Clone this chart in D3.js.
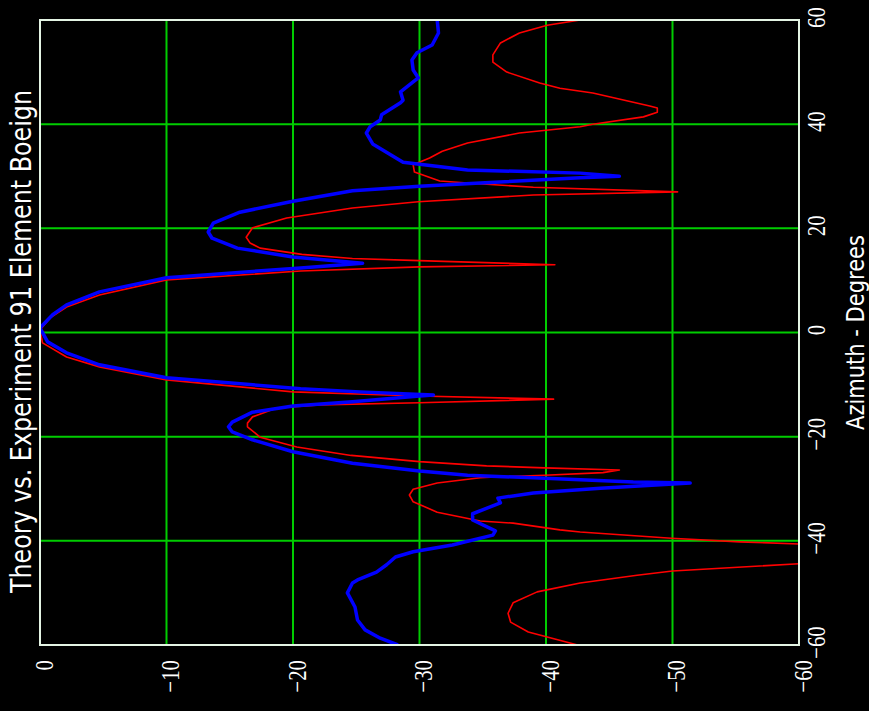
<!DOCTYPE html>
<html>
<head>
<meta charset="utf-8">
<script src="https://cdn.jsdelivr.net/npm/d3@7"></script>
<style>
  html, body { margin: 0; padding: 0; background: #000; }
  svg { display: block; }
</style>
</head>
<body>
<script>
// level in dB along the bottom, azimuth in degrees up the right side
const dbTicks = [0, -10, -20, -30, -40, -50, -60];
const azTicks = [60, 40, 20, 0, -20, -40, -60];

// [azimuth, dB]
const theory = [
  [-60, -42.5], [-57.5, -38.6], [-55.6, -37.2], [-53.9, -37.0], [-51.9, -37.4],
  [-49.8, -39.3], [-48.1, -42.7], [-46.6, -47.2], [-45.8, -50.0], [-44.4, -60.0],
  [-42.5, -75.0], [-40.6, -60.0], [-40.2, -55.3], [-39.5, -49.9], [-38.3, -42.7],
  [-37.9, -41.1], [-36.6, -37.4], [-36.2, -34.8], [-34.5, -31.4], [-32.5, -29.5],
  [-31.2, -29.2], [-30.1, -29.5], [-28.9, -31.4], [-27.9, -34.8], [-27.7, -36.4],
  [-27.4, -39.9], [-26.9, -44.5], [-26.4, -45.8], [-26.0, -39.9], [-25.6, -35.3],
  [-24.8, -30.0], [-23.6, -24.6], [-22.0, -20.3], [-20.1, -17.4], [-18.1, -16.4],
  [-17.4, -16.4], [-16.2, -16.8], [-14.5, -18.7], [-13.9, -22.1], [-13.5, -30.0],
  [-12.8, -40.6], [-12.2, -30.0], [-11.4, -20.0], [-9.1, -10.0], [-6.6, -4.7],
  [-4.7, -2.1], [-2.0, -0.2], [0.5, 0], [2.8, -0.8], [4.9, -2.1], [7.2, -4.7],
  [10.1, -10.0], [11.8, -20.6], [12.6, -30.0], [13.0, -40.7], [13.8, -30.0],
  [14.2, -24.7], [15.0, -20.7], [16.2, -17.4], [17.2, -16.6], [18.3, -16.3],
  [20.1, -16.8], [22.0, -19.5], [23.9, -24.7], [25.1, -29.9], [26.4, -39.0],
  [27.0, -50.4], [27.9, -39.0], [28.7, -33.8], [29.1, -31.6], [30.8, -29.6],
  [32.2, -29.5], [33.5, -30.8], [34.8, -31.8], [36.4, -33.8], [38.3, -37.9],
  [39.5, -42.7], [40.0, -43.7], [41.4, -47.7], [42.3, -48.8], [43.1, -48.8],
  [43.5, -48.2], [46.0, -43.7], [46.9, -41.1], [47.9, -39.5], [50.0, -36.9],
  [51.9, -35.8], [53.3, -35.8], [55.6, -36.4], [57.5, -37.9], [59.0, -40.1],
  [60, -42.7]
];

const experiment = [
  [-60, -28.3], [-58.7, -26.9], [-57.1, -25.7], [-55.2, -25.1], [-52.7, -24.9],
  [-50.0, -24.3], [-48.1, -24.7], [-47.5, -25.1], [-46.0, -26.6], [-44.6, -27.4],
  [-43.1, -28.1], [-42.1, -29.5], [-40.8, -32.6], [-38.9, -35.8], [-38.1, -36.0],
  [-36.0, -34.2], [-34.8, -34.2], [-32.7, -36.4], [-31.8, -36.2], [-30.8, -39.0],
  [-29.9, -44.3], [-28.9, -51.4], [-28.7, -46.9], [-27.9, -39.0], [-27.4, -33.8],
  [-26.6, -30.0], [-25.1, -24.7], [-22.9, -20.0], [-20.6, -16.8], [-19.1, -15.2],
  [-18.1, -14.9], [-17.2, -15.2], [-15.3, -16.8], [-14.1, -20.0], [-13.3, -24.7],
  [-12.2, -30.0], [-12.0, -31.1], [-11.4, -25.3], [-10.8, -20.6], [-8.7, -10.0],
  [-6.2, -4.7], [-3.9, -2.1], [-1.8, -0.6], [0.9, 0], [1.4, -0.2], [3.4, -1.0],
  [5.3, -2.1], [7.8, -4.7], [10.5, -10.0], [12.4, -20.6], [13.3, -25.5],
  [14.5, -20.0], [16.2, -15.6], [18.1, -13.6], [19.3, -13.3], [21.0, -13.7],
  [23.1, -15.8], [25.2, -20.0], [27.2, -24.7], [28.1, -30.0], [28.7, -34.8],
  [29.7, -42.7], [30.0, -45.8], [30.6, -42.7], [31.2, -33.8], [32.7, -28.7],
  [36.2, -26.3], [38.3, -25.8], [39.5, -26.1], [40.8, -26.9], [41.8, -27.0],
  [44.1, -28.5], [44.6, -28.7], [46.2, -28.5], [48.9, -29.9], [50.4, -29.5],
  [52.3, -29.4], [53.7, -29.8], [55.2, -31.0], [57.5, -31.5], [60, -31.4]
];

const width = 869;
const height = 711;
const plot = { left: 40, right: 799, top: 20, bottom: 645 };

const x = d3.scaleLinear().domain([0, -60]).range([plot.left, plot.right]);
const y = d3.scaleLinear().domain([60, -60]).range([plot.top, plot.bottom]);

const svg = d3
  .select("body")
  .append("svg")
  .attr("width", width)
  .attr("height", height)
  .style("background", "#000");

svg
  .append("defs")
  .append("clipPath")
  .attr("id", "plot-clip")
  .append("rect")
  .attr("x", plot.left)
  .attr("y", plot.top)
  .attr("width", plot.right - plot.left)
  .attr("height", plot.bottom - plot.top);

// grid
const grid = svg.append("g").attr("stroke", "#00cc00").attr("stroke-width", 2);

grid
  .selectAll("line.v")
  .data(dbTicks.slice(1, -1))
  .join("line")
  .attr("class", "v")
  .attr("x1", (d) => x(d))
  .attr("x2", (d) => x(d))
  .attr("y1", plot.top)
  .attr("y2", plot.bottom);

grid
  .selectAll("line.h")
  .data(azTicks.slice(1, -1))
  .join("line")
  .attr("class", "h")
  .attr("x1", plot.left)
  .attr("x2", plot.right)
  .attr("y1", (d) => y(d))
  .attr("y2", (d) => y(d));

// curves
const line = d3
  .line()
  .x((d) => x(d[1]))
  .y((d) => y(d[0]));

const curves = svg.append("g").attr("clip-path", "url(#plot-clip)").attr("fill", "none");

curves
  .append("path")
  .datum(theory)
  .attr("stroke", "#ff0000")
  .attr("stroke-width", 1.6)
  .attr("stroke-linejoin", "round")
  .attr("d", line);

curves
  .append("path")
  .datum(experiment)
  .attr("stroke", "#0000ff")
  .attr("stroke-width", 3.5)
  .attr("stroke-linejoin", "round")
  .attr("d", line);

// frame
svg
  .append("rect")
  .attr("x", plot.left)
  .attr("y", plot.top)
  .attr("width", plot.right - plot.left)
  .attr("height", plot.bottom - plot.top)
  .attr("fill", "none")
  .attr("stroke", "#e4f4e4")
  .attr("stroke-width", 2);

// axes, labels turned on their side like the rest of the page
const squash = 0.8;
const tickFont = "'Liberation Serif', 'Times New Roman', serif";

const bottomAxis = svg
  .append("g")
  .attr("transform", `translate(0,${plot.bottom})`)
  .call(d3.axisBottom(x).tickValues(dbTicks).tickSize(0));

bottomAxis.select(".domain").remove();
bottomAxis
  .selectAll("text")
  .attr("fill", "#fff")
  .attr("font-family", tickFont)
  .attr("font-size", 26)
  .attr("text-anchor", "end")
  .attr("dy", 0)
  .attr("y", 12)
  .attr("x", -15 / squash)
  .attr("transform", `rotate(-90) scale(${squash},1)`);

const rightAxis = svg
  .append("g")
  .attr("transform", `translate(${plot.right},0)`)
  .call(d3.axisRight(y).tickValues(azTicks).tickSize(0));

rightAxis.select(".domain").remove();
rightAxis
  .selectAll("text")
  .attr("fill", "#fff")
  .attr("font-family", tickFont)
  .attr("font-size", 26)
  .attr("text-anchor", "middle")
  .attr("dy", 0)
  .attr("y", 26)
  .attr("x", 3 / squash)
  .attr("transform", `rotate(-90) scale(${squash},1)`);

// titles
const titleFont = "'DejaVu Sans', 'Noto Sans', sans-serif";

svg
  .append("text")
  .attr("transform", `translate(31,${(593 + 90) / 2}) rotate(-90)`)
  .attr("text-anchor", "middle")
  .attr("fill", "#fff")
  .attr("font-family", titleFont)
  .attr("font-size", 28)
  .attr("textLength", 503)
  .attr("lengthAdjust", "spacingAndGlyphs")
  .text("Theory vs. Experiment 91 Element Boeign");

svg
  .append("text")
  .attr("transform", `translate(864,${y(0)}) rotate(-90)`)
  .attr("text-anchor", "middle")
  .attr("fill", "#fff")
  .attr("font-family", titleFont)
  .attr("font-size", 24)
  .attr("textLength", 195)
  .attr("lengthAdjust", "spacingAndGlyphs")
  .text("Azimuth - Degrees");
</script>
</body>
</html>
